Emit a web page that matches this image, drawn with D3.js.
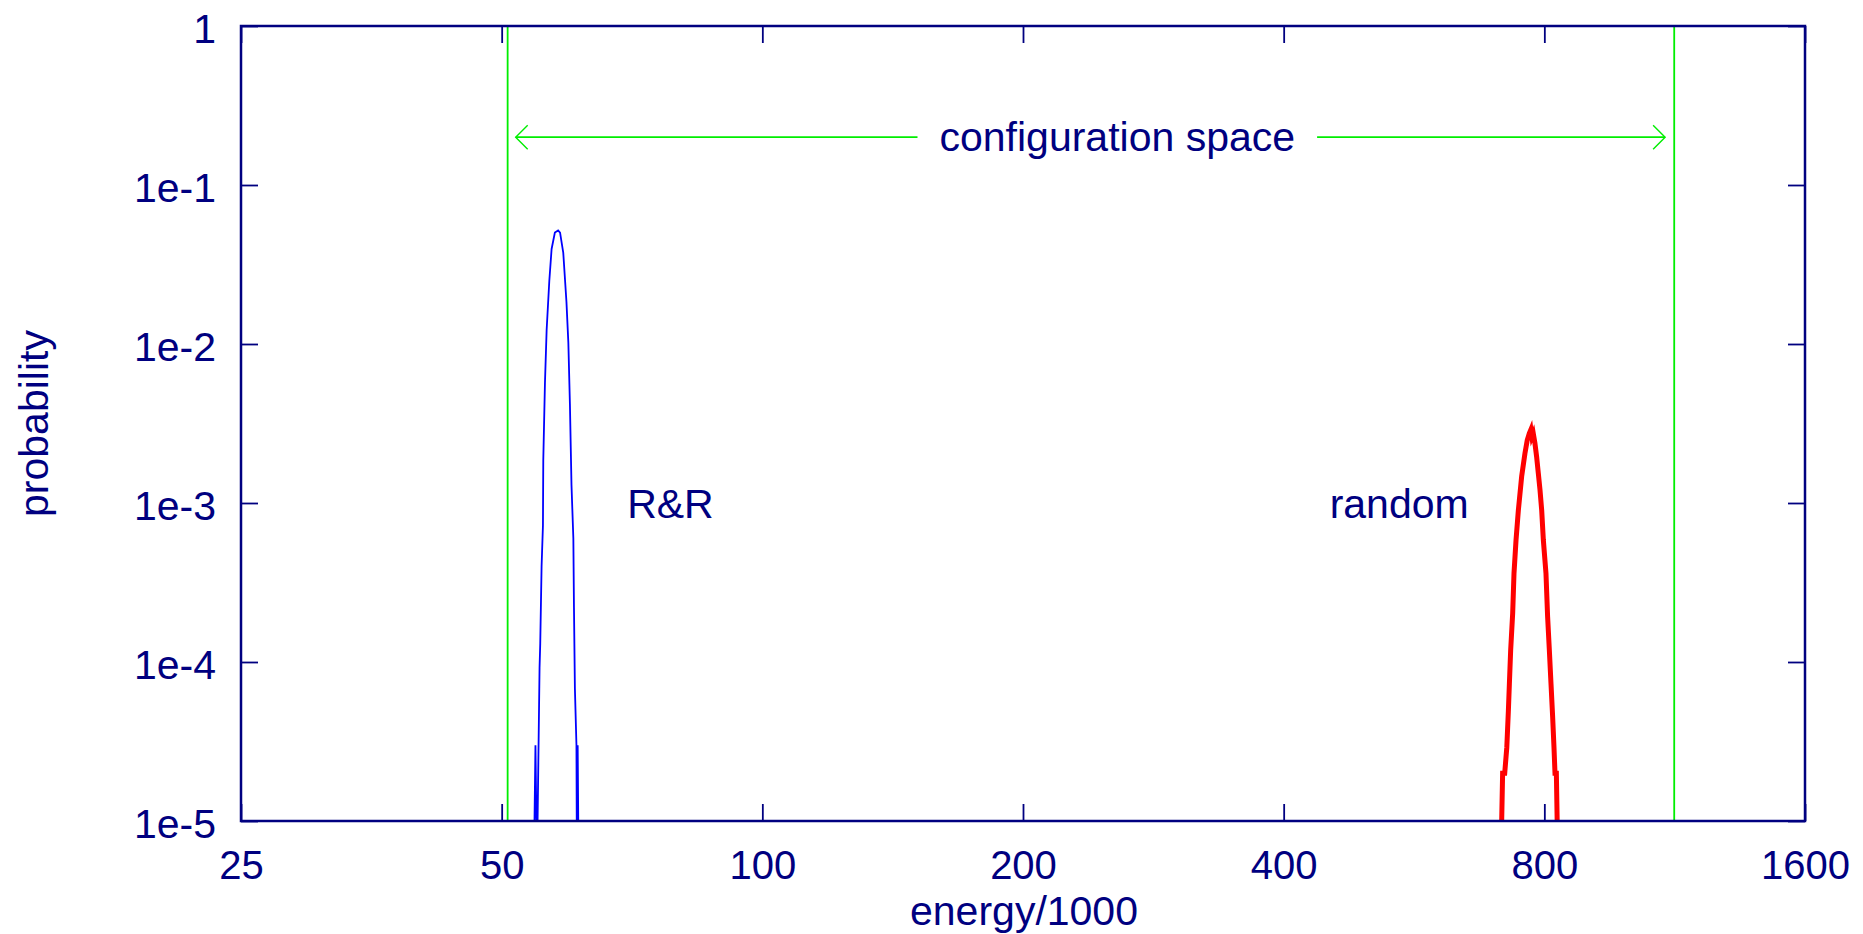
<!DOCTYPE html>
<html>
<head>
<meta charset="utf-8">
<script src="https://cdn.jsdelivr.net/npm/d3@7"></script>
<style>
  body { margin: 0; background: #fff; }
  text { font-family: "Liberation Sans", Arial, sans-serif; fill: #000080; }
</style>
</head>
<body>
<div id="chart"></div>
<script>
// axis ticks
var xTicks = [25, 50, 100, 200, 400, 800, 1600];
var yTicks = [1, 1e-1, 1e-2, 1e-3, 1e-4, 1e-5];
var yTickLabels = ["1", "1e-1", "1e-2", "1e-3", "1e-4", "1e-5"];

// R&R histogram (energy/1000, probability); 0 = empty bin
var rrEnergy = [54.55, 54.7, 54.85, 55.0, 55.3, 55.4, 55.6, 55.8, 55.85, 56.1, 56.35, 56.75,
                57.1, 57.6, 58.1, 58.4, 58.9, 59.4, 59.7, 59.95, 60.2, 60.5, 60.6, 60.75,
                61.0, 61.05, 61.2, 61.3];
var rrProb = [0, 3.0e-5, 0, 0, 9.2e-5, 1.3e-4, 4.0e-4, 7.2e-4, 1.85e-3, 5.7e-3, 1.22e-2, 2.48e-2,
              3.96e-2, 5.02e-2, 5.18e-2, 5.02e-2, 3.74e-2, 1.84e-2, 1.02e-2, 4.2e-3, 1.3e-3, 6.0e-4, 2.2e-4, 6.8e-5,
              3.0e-5, 0, 3.0e-5, 0];

// random configurations histogram
var rndEnergy = [714, 716, 720, 724, 727, 729, 731.5, 735.4, 738, 742, 746.6, 753.2,
                 759.8, 764.5, 768.7, 772, 774, 776.8, 780.3, 783.8, 787.3, 790.8, 794.4,
                 797.9, 803.5, 807, 810.7, 814.3, 817.9, 820.8, 823, 826, 828];
var rndProb = [0, 2.0e-5, 2.0e-5, 2.9e-5, 4.9e-5, 7.3e-5, 1.19e-4, 2.02e-4, 3.61e-4, 5.85e-4, 9.0e-4, 1.47e-3,
               2.05e-3, 2.49e-3, 2.74e-3, 2.9e-3, 2.61e-3, 2.74e-3, 2.37e-3, 1.95e-3, 1.54e-3, 1.21e-3, 9.0e-4,
               5.85e-4, 3.61e-4, 1.93e-4, 1.19e-4, 7.3e-5, 4.5e-5, 2.9e-5, 2.0e-5, 2.0e-5, 0];

// configuration space bounds and arrow
var spaceBounds = [50.8, 1130];
var arrowEnds = [51.9, 1103];
var arrowLevel = 0.2;
var arrowLabel = "configuration space";
var arrowLabelAt = 257;

var labels = [
  { text: "R&R", energy: 69.8, prob: 1.04e-3 },
  { text: "random", energy: 452, prob: 1.04e-3 }
];

var margin = { top: 26, right: 58, bottom: 113, left: 241 };
var W = 1863, H = 934;
var w = W - margin.left - margin.right;
var h = H - margin.top - margin.bottom;
var navy = "#000080";
var fs = 41;

var svg = d3.select("#chart").append("svg")
  .attr("width", W).attr("height", H);
var g = svg.append("g")
  .attr("transform", "translate(" + margin.left + "," + margin.top + ")");

var x = d3.scaleLog().base(2).domain([25, 1600]).range([0, w]);
var y = d3.scaleLog().domain([1e-5, 1]).range([h, 0]);

svg.append("defs").append("clipPath").attr("id", "plotclip")
  .append("rect").attr("width", w).attr("height", h);

// ticks (inward, on all four sides)
var tick = 17;
var xb = g.append("g").attr("transform", "translate(0," + h + ")")
  .call(d3.axisBottom(x).tickValues(xTicks).tickSizeInner(-tick).tickSizeOuter(0)
    .tickFormat(d3.format("d")));
var xt = g.append("g")
  .call(d3.axisTop(x).tickValues(xTicks).tickSizeInner(-tick).tickSizeOuter(0).tickFormat(""));
var yl = g.append("g")
  .call(d3.axisLeft(y).tickValues(yTicks).tickSizeInner(-tick).tickSizeOuter(0)
    .tickFormat(function(d, i) { return yTickLabels[i]; }));
var yr = g.append("g").attr("transform", "translate(" + w + ",0)")
  .call(d3.axisRight(y).tickValues(yTicks).tickSizeInner(-tick).tickSizeOuter(0).tickFormat(""));

[xb, xt, yl, yr].forEach(function(a) {
  a.select(".domain").remove();
  a.selectAll(".tick line").attr("stroke", navy).attr("stroke-width", 1.8);
  a.selectAll(".tick text").attr("font-size", fs).attr("fill", navy)
    .attr("font-family", "Liberation Sans, Arial, sans-serif");
});
xb.selectAll(".tick text").attr("font-size", 40).attr("y", 30);
yl.selectAll(".tick text").attr("x", -25).attr("dy", "0.4em");

// green bounds and arrow
var green = "#00ee00";
g.selectAll(".bound").data(spaceBounds).enter().append("line")
  .attr("x1", function(d) { return x(d); }).attr("x2", function(d) { return x(d); })
  .attr("y1", 0).attr("y2", h)
  .attr("stroke", green).attr("stroke-width", 1.8);

var ay = y(arrowLevel);
var lbl = g.append("text")
  .attr("x", x(arrowLabelAt)).attr("y", ay + 14)
  .attr("text-anchor", "middle").attr("font-size", fs)
  .text(arrowLabel);
var half = lbl.node().getComputedTextLength() / 2 + 22;
var lx = x(arrowLabelAt);
g.append("line").attr("x1", x(arrowEnds[0])).attr("x2", lx - half)
  .attr("y1", ay).attr("y2", ay).attr("stroke", green).attr("stroke-width", 1.6);
g.append("line").attr("x1", lx + half).attr("x2", x(arrowEnds[1]))
  .attr("y1", ay).attr("y2", ay).attr("stroke", green).attr("stroke-width", 1.6);
var hs = 12;
g.append("path")
  .attr("d", "M" + (x(arrowEnds[0]) + hs) + "," + (ay - hs) + "L" + x(arrowEnds[0]) + "," + ay +
             "L" + (x(arrowEnds[0]) + hs) + "," + (ay + hs))
  .attr("fill", "none").attr("stroke", green).attr("stroke-width", 1.4);
g.append("path")
  .attr("d", "M" + (x(arrowEnds[1]) - hs) + "," + (ay - hs) + "L" + x(arrowEnds[1]) + "," + ay +
             "L" + (x(arrowEnds[1]) - hs) + "," + (ay + hs))
  .attr("fill", "none").attr("stroke", green).attr("stroke-width", 1.4);

// data curves
var line = d3.line()
  .x(function(d) { return x(d[0]); })
  .y(function(d) { return d[1] > 0 ? y(d[1]) : h + 6; });

var plot = g.append("g").attr("clip-path", "url(#plotclip)");
plot.append("path")
  .datum(d3.zip(rndEnergy, rndProb))
  .attr("d", line).attr("fill", "none")
  .attr("stroke", "#ff0000").attr("stroke-width", 5).attr("stroke-linejoin", "miter");
plot.append("path")
  .datum(d3.zip(rrEnergy, rrProb))
  .attr("d", line).attr("fill", "none")
  .attr("stroke", "#0000ff").attr("stroke-width", 1.8);

// labels
g.selectAll(".lab").data(labels).enter().append("text")
  .attr("x", function(d) { return x(d.energy); })
  .attr("y", function(d) { return y(d.prob) + 18; })
  .attr("font-size", fs)
  .text(function(d) { return d.text; });

// frame
g.append("rect").attr("width", w).attr("height", h)
  .attr("fill", "none").attr("stroke", navy).attr("stroke-width", 2.5);

// axis titles
svg.append("text")
  .attr("x", margin.left + x(Math.sqrt(25 * 1600)) + 1).attr("y", 925)
  .attr("text-anchor", "middle").attr("font-size", fs)
  .text("energy/1000");
svg.append("text")
  .attr("transform", "translate(48," + (margin.top + h / 2) + ") rotate(-90)")
  .attr("text-anchor", "middle").attr("font-size", fs)
  .text("probability");
</script>
</body>
</html>
